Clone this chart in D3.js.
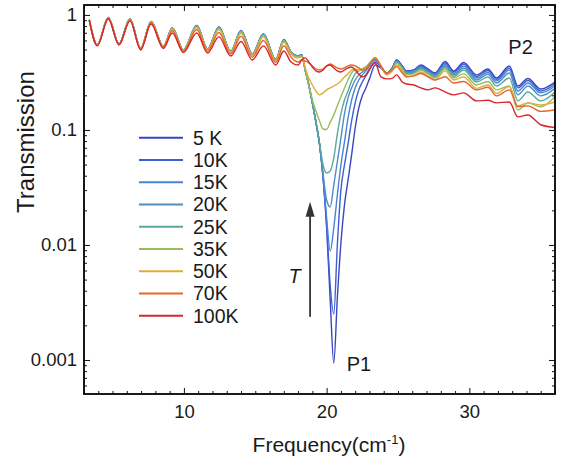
<!DOCTYPE html>
<html>
<head>
<meta charset="utf-8">
<script src="https://cdn.jsdelivr.net/npm/d3@7"></script>
<style>
  body { margin: 0; background: #fff; }
  text { font-family: "Liberation Sans", Arial, Helvetica, sans-serif; fill: #1a1a1a; }
</style>
</head>
<body>
<div id="chart"></div>
<script>
// frequency grid (cm-1), shared by all temperatures
var freq = [3.37, 3.93, 4.70, 5.45, 6.22, 6.97, 7.70, 8.56, 9.19, 9.96,
  10.90, 11.66, 12.45, 13.28, 14.00, 14.79, 15.57, 16.43, 17.00, 17.50,
  18.00, 18.25, 18.50, 18.75, 19.00, 19.25, 19.50, 19.75, 20.00, 20.25,
  20.50, 20.75, 21.00, 21.25, 21.50, 21.75, 22.00, 22.25, 22.50, 22.75,
  23.00, 23.40, 23.80, 24.20, 24.60, 24.90, 25.30, 25.60, 26.10, 26.60,
  27.10, 27.60, 28.30, 28.90, 29.60, 30.50, 31.30, 31.90, 32.80, 33.40,
  34.10, 35.00, 36.00]

// transmission, one array per temperature
var t5K = [0.905, 0.548, 0.951, 0.559, 0.923, 0.511, 0.878, 0.532, 0.771, 0.496,
  0.810, 0.506, 0.786, 0.481, 0.733, 0.458, 0.684, 0.410, 0.612, 0.477,
  0.440, 0.449, 0.332, 0.246, 0.172, 0.117, 0.0756, 0.0382, 0.0141, 0.00332,
  0.000942, 0.00346, 0.0104, 0.0223, 0.0367, 0.0606, 0.104, 0.155, 0.198, 0.232,
  0.278, 0.367, 0.346, 0.313, 0.346, 0.406, 0.360, 0.326, 0.332, 0.367,
  0.339, 0.313, 0.394, 0.326, 0.386, 0.301, 0.339, 0.283, 0.360, 0.241,
  0.280, 0.227, 0.261]
var t10K = [0.905, 0.547, 0.952, 0.558, 0.924, 0.510, 0.879, 0.531, 0.770, 0.495,
  0.809, 0.505, 0.785, 0.480, 0.731, 0.457, 0.682, 0.409, 0.610, 0.477,
  0.440, 0.449, 0.332, 0.246, 0.172, 0.117, 0.0756, 0.0390, 0.0149, 0.00449,
  0.00251, 0.0100, 0.0301, 0.0496, 0.0756, 0.120, 0.172, 0.223, 0.261, 0.295,
  0.332, 0.390, 0.353, 0.313, 0.346, 0.406, 0.360, 0.322, 0.329, 0.360,
  0.332, 0.307, 0.382, 0.319, 0.375, 0.292, 0.329, 0.275, 0.346, 0.232,
  0.269, 0.218, 0.251]
var t15K = [0.905, 0.547, 0.951, 0.558, 0.922, 0.510, 0.877, 0.531, 0.768, 0.495,
  0.806, 0.505, 0.781, 0.480, 0.727, 0.456, 0.678, 0.408, 0.606, 0.477,
  0.440, 0.449, 0.332, 0.246, 0.172, 0.117, 0.0756, 0.0398, 0.0172, 0.00887,
  0.0141, 0.0272, 0.0496, 0.0786, 0.127, 0.182, 0.232, 0.272, 0.301, 0.326,
  0.360, 0.406, 0.360, 0.310, 0.343, 0.398, 0.353, 0.319, 0.326, 0.353,
  0.326, 0.301, 0.371, 0.310, 0.360, 0.283, 0.316, 0.267, 0.332, 0.218,
  0.256, 0.210, 0.241]
var t20K = [0.905, 0.546, 0.950, 0.557, 0.921, 0.509, 0.876, 0.530, 0.766, 0.494,
  0.803, 0.504, 0.778, 0.479, 0.724, 0.455, 0.675, 0.407, 0.603, 0.472,
  0.440, 0.444, 0.332, 0.246, 0.172, 0.117, 0.0756, 0.0414, 0.0246, 0.0214,
  0.0332, 0.0527, 0.0852, 0.138, 0.190, 0.232, 0.272, 0.301, 0.319, 0.339,
  0.367, 0.414, 0.360, 0.307, 0.339, 0.394, 0.350, 0.313, 0.319, 0.346,
  0.319, 0.295, 0.360, 0.301, 0.346, 0.272, 0.304, 0.256, 0.313, 0.202,
  0.241, 0.198, 0.230]
var t25K = [0.905, 0.546, 0.949, 0.557, 0.920, 0.509, 0.874, 0.530, 0.764, 0.494,
  0.799, 0.504, 0.773, 0.478, 0.719, 0.454, 0.670, 0.406, 0.600, 0.467,
  0.436, 0.440, 0.332, 0.246, 0.172, 0.117, 0.0771, 0.0496, 0.0423, 0.0440,
  0.0571, 0.0923, 0.138, 0.182, 0.218, 0.267, 0.307, 0.326, 0.339, 0.353,
  0.375, 0.423, 0.360, 0.307, 0.336, 0.390, 0.346, 0.307, 0.313, 0.339,
  0.313, 0.289, 0.350, 0.292, 0.332, 0.261, 0.289, 0.241, 0.283, 0.179,
  0.214, 0.179, 0.214]
var t35K = [0.905, 0.547, 0.947, 0.558, 0.919, 0.509, 0.872, 0.530, 0.762, 0.493,
  0.795, 0.503, 0.768, 0.477, 0.714, 0.452, 0.665, 0.404, 0.596, 0.467,
  0.431, 0.440, 0.332, 0.246, 0.182, 0.146, 0.120, 0.102, 0.101, 0.117,
  0.135, 0.162, 0.194, 0.232, 0.272, 0.313, 0.332, 0.328, 0.339, 0.353,
  0.382, 0.423, 0.360, 0.304, 0.332, 0.382, 0.339, 0.301, 0.307, 0.332,
  0.307, 0.283, 0.339, 0.283, 0.307, 0.246, 0.264, 0.223, 0.241, 0.149,
  0.172, 0.159, 0.194]
var t50K = [0.905, 0.545, 0.944, 0.556, 0.914, 0.507, 0.867, 0.527, 0.751, 0.490,
  0.780, 0.496, 0.747, 0.471, 0.693, 0.444, 0.644, 0.399, 0.578, 0.458,
  0.423, 0.431, 0.346, 0.283, 0.246, 0.218, 0.202, 0.210, 0.223, 0.232,
  0.241, 0.251, 0.267, 0.289, 0.307, 0.332, 0.339, 0.332, 0.328, 0.346,
  0.375, 0.423, 0.360, 0.301, 0.326, 0.367, 0.326, 0.292, 0.295, 0.319,
  0.295, 0.272, 0.326, 0.272, 0.289, 0.230, 0.246, 0.208, 0.239, 0.162,
  0.172, 0.165, 0.175]
var t70K = [0.905, 0.543, 0.936, 0.554, 0.903, 0.503, 0.854, 0.521, 0.729, 0.482,
  0.746, 0.484, 0.704, 0.458, 0.652, 0.429, 0.599, 0.386, 0.540, 0.431,
  0.390, 0.406, 0.398, 0.382, 0.360, 0.339, 0.332, 0.339, 0.360, 0.375,
  0.360, 0.346, 0.339, 0.346, 0.360, 0.367, 0.360, 0.346, 0.332, 0.339,
  0.375, 0.423, 0.360, 0.311, 0.332, 0.355, 0.313, 0.289, 0.295, 0.310,
  0.289, 0.272, 0.290, 0.256, 0.264, 0.223, 0.235, 0.198, 0.223, 0.159,
  0.162, 0.145, 0.149]
var t100K = [0.905, 0.538, 0.923, 0.548, 0.887, 0.496, 0.835, 0.511, 0.697, 0.472,
  0.697, 0.467, 0.644, 0.440, 0.588, 0.406, 0.538, 0.367, 0.486, 0.390,
  0.367, 0.406, 0.423, 0.390, 0.353, 0.326, 0.319, 0.332, 0.360, 0.367,
  0.346, 0.326, 0.319, 0.332, 0.346, 0.353, 0.332, 0.307, 0.289, 0.301,
  0.339, 0.382, 0.289, 0.278, 0.281, 0.301, 0.261, 0.251, 0.246, 0.232,
  0.223, 0.232, 0.214, 0.202, 0.210, 0.179, 0.181, 0.172, 0.175, 0.130,
  0.135, 0.111, 0.105]

var labels = ["5 K", "10K", "15K", "20K", "25K", "35K", "50K", "70K", "100K"]
var colors = ["#3a45c0", "#3d5fd5", "#4a82d6", "#4f8fc0", "#5aa99a",
  "#95bd5c", "#e0ad3a", "#e5662f", "#d8262b"]
var series = [t5K, t10K, t15K, t20K, t25K, t35K, t50K, t70K, t100K]

var xTicks = [10, 20, 30]
var yTicks = [1, 0.1, 0.01, 0.001]
var yTickLabels = ["1", "0.1", "0.01", "0.001"]

// annotations in data units
var notes = [
  { text: "P1", f: 21.41, t: 0.000794, italic: false },
  { text: "P2", f: 32.73, t: 0.458, italic: false },
  { text: "T", f: 17.32, t: 0.00464, italic: true }
]
var arrow = { f: 18.84, from: 0.00238, to: 0.0237 }

var plot = { left: 84, right: 555, top: 5, bottom: 394 }

var x = d3.scaleLinear()
  .domain([3, 36])
  .range([plot.left, plot.right])

var y = d3.scaleLog()
  .domain([0.000506, 1.22])
  .range([plot.bottom, plot.top])

var svg = d3.select("#chart")
  .append("svg")
    .attr("width", 565)
    .attr("height", 460)

svg.append("defs").append("clipPath")
  .attr("id", "clip")
  .append("rect")
    .attr("x", plot.left)
    .attr("y", plot.top)
    .attr("width", plot.right - plot.left)
    .attr("height", plot.bottom - plot.top)

// minor tick positions
var xMinor = d3.range(3, 37).filter(function(v) { return xTicks.indexOf(v) < 0 })
var yMinor = []
for (var e = -4; e <= 0; e++) {
  for (var m = 2; m <= 9; m++) {
    var v = m * Math.pow(10, e)
    if (v > y.domain()[0] && v < y.domain()[1]) yMinor.push(v)
  }
}

function styleAxis(g) {
  g.select(".domain").remove()
  g.selectAll("line").attr("stroke", "#111").attr("stroke-width", 1)
  g.selectAll("text").style("font-size", "18.5px").attr("fill", "#1a1a1a")
}

// bottom
svg.append("g")
  .attr("transform", "translate(0," + plot.bottom + ")")
  .call(d3.axisBottom(x).tickValues(xMinor).tickSizeInner(-3).tickSizeOuter(0).tickFormat(""))
  .call(styleAxis)
svg.append("g")
  .attr("transform", "translate(0," + plot.bottom + ")")
  .call(d3.axisBottom(x).tickValues(xTicks).tickSizeInner(-6).tickSizeOuter(0).tickPadding(11))
  .call(styleAxis)
// top
svg.append("g")
  .attr("transform", "translate(0," + plot.top + ")")
  .call(d3.axisTop(x).tickValues(xMinor).tickSizeInner(-3).tickSizeOuter(0).tickFormat(""))
  .call(styleAxis)
svg.append("g")
  .attr("transform", "translate(0," + plot.top + ")")
  .call(d3.axisTop(x).tickValues(xTicks).tickSizeInner(-6).tickSizeOuter(0).tickFormat(""))
  .call(styleAxis)
// left
svg.append("g")
  .attr("transform", "translate(" + plot.left + ",0)")
  .call(d3.axisLeft(y).tickValues(yMinor).tickSizeInner(-3).tickSizeOuter(0).tickFormat(""))
  .call(styleAxis)
svg.append("g")
  .attr("transform", "translate(" + plot.left + ",0)")
  .call(d3.axisLeft(y).tickValues(yTicks).tickSizeInner(-6).tickSizeOuter(0).tickPadding(7)
    .tickFormat(function(d, i) { return yTickLabels[i] }))
  .call(styleAxis)
// right
svg.append("g")
  .attr("transform", "translate(" + plot.right + ",0)")
  .call(d3.axisRight(y).tickValues(yMinor).tickSizeInner(-3).tickSizeOuter(0).tickFormat(""))
  .call(styleAxis)
svg.append("g")
  .attr("transform", "translate(" + plot.right + ",0)")
  .call(d3.axisRight(y).tickValues(yTicks).tickSizeInner(-6).tickSizeOuter(0).tickFormat(""))
  .call(styleAxis)

// curves
var line = d3.line()
  .x(function(d) { return x(d[0]) })
  .y(function(d) { return y(d[1]) })
  .curve(d3.curveMonotoneX)

var curves = svg.append("g").attr("clip-path", "url(#clip)")
series.forEach(function(s, i) {
  curves.append("path")
    .datum(freq.map(function(f, j) { return [f, s[j]] }))
    .attr("fill", "none")
    .attr("stroke", colors[i])
    .attr("stroke-width", 1.4)
    .attr("stroke-linejoin", "round")
    .attr("d", line)
})

// frame
svg.append("rect")
  .attr("x", plot.left)
  .attr("y", plot.top)
  .attr("width", plot.right - plot.left)
  .attr("height", plot.bottom - plot.top)
  .attr("fill", "none")
  .attr("stroke", "#000")
  .attr("stroke-width", 1.8)

// legend
var legend = svg.append("g")
labels.forEach(function(lab, i) {
  var ly = 137.7 + i * 22.25
  legend.append("line")
    .attr("x1", 139).attr("x2", 183)
    .attr("y1", ly).attr("y2", ly)
    .attr("stroke", colors[i])
    .attr("stroke-width", 2)
  legend.append("text")
    .attr("x", 193)
    .attr("y", ly)
    .attr("dy", "0.36em")
    .style("font-size", "19.5px")
    .text(lab)
})

// annotations
notes.forEach(function(n) {
  svg.append("text")
    .attr("x", x(n.f))
    .attr("y", y(n.t))
    .style("font-size", "20px")
    .style("font-style", n.italic ? "italic" : "normal")
    .text(n.text)
})

var ax = x(arrow.f), tipY = y(arrow.to)
svg.append("line")
  .attr("x1", ax).attr("x2", ax)
  .attr("y1", y(arrow.from)).attr("y2", tipY + 10)
  .attr("stroke", "#333")
  .attr("stroke-width", 1.8)
svg.append("path")
  .attr("d", "M" + ax + "," + tipY + "L" + (ax - 4.5) + "," + (tipY + 15) + "L" + (ax + 4.5) + "," + (tipY + 15) + "Z")
  .attr("fill", "#333")

// axis labels
var xl = svg.append("text")
  .attr("x", 329)
  .attr("y", 452)
  .attr("text-anchor", "middle")
  .style("font-size", "21px")
xl.append("tspan").text("Frequency(cm")
xl.append("tspan").attr("dy", -8).style("font-size", "13px").text("-1")
xl.append("tspan").attr("dy", 8).text(")")

svg.append("text")
  .attr("transform", "translate(34,142) rotate(-90)")
  .attr("text-anchor", "middle")
  .style("font-size", "24px")
  .text("Transmission")
</script>
</body>
</html>
